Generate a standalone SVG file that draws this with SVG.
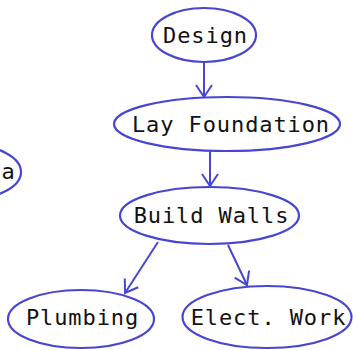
<svg xmlns="http://www.w3.org/2000/svg" width="353" height="350" viewBox="0 0 353 350">
<defs>
<marker id="arr" markerUnits="userSpaceOnUse" markerWidth="30" markerHeight="30" viewBox="-15 -15 30 30" refX="0" refY="0" orient="auto">
<path d="M-12,-8 L0,0 L-12,8" fill="none" stroke="#4646d2" stroke-width="2"/>
</marker>
<style>
.node ellipse{fill:#fff;stroke:#4646d2;stroke-width:2.2}
.node text{font-family:"DejaVu Sans Mono",monospace;font-size:22px;letter-spacing:0.9px;fill:#111;text-anchor:middle}
.edges line{stroke:#4646d2;stroke-width:2;marker-end:url(#arr)}
</style>
</defs>
<rect width="353" height="350" fill="#fff"/>
<g class="edges">
<line x1="204" y1="62" x2="204" y2="97"/>
<line x1="210" y1="151" x2="210" y2="186"/>
<line x1="158" y1="242" x2="125" y2="293"/>
<line x1="228" y1="245" x2="247" y2="285"/>
</g>
<g id="node-a" class="node"><ellipse cx="-31" cy="172" rx="52" ry="27"/><text x="8.5" y="179">a</text></g>
<g id="node-design" class="node"><ellipse cx="204" cy="35" rx="52" ry="27"/><text x="205.5" y="43">Design</text></g>
<g id="node-lay" class="node"><ellipse cx="227" cy="124" rx="113" ry="27"/><text x="231" y="132">Lay Foundation</text></g>
<g id="node-walls" class="node"><ellipse cx="209.5" cy="215.5" rx="89.5" ry="28.5"/><text x="211.5" y="223">Build Walls</text></g>
<g id="node-plumbing" class="node"><ellipse cx="81" cy="319" rx="73" ry="29"/><text x="82.5" y="325">Plumbing</text></g>
<g id="node-elect" class="node"><ellipse cx="267" cy="317" rx="84.5" ry="31"/><text x="268.5" y="325">Elect. Work</text></g>
</svg>
